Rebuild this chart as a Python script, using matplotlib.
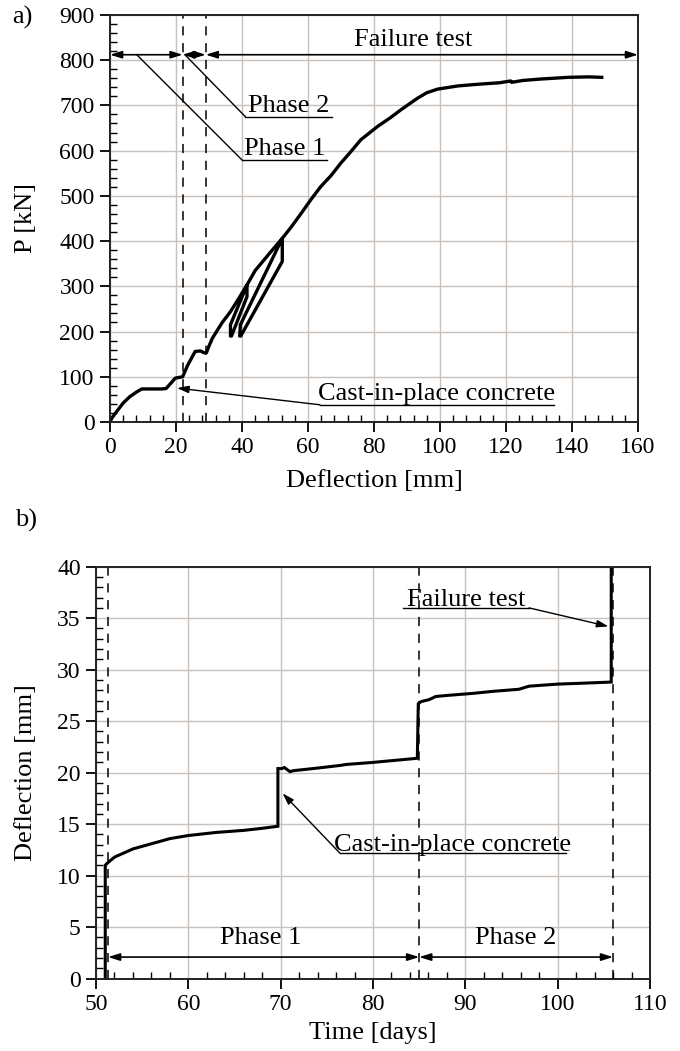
import matplotlib
matplotlib.use("Agg")
import matplotlib.pyplot as plt

plt.rcParams['font.family'] = ['Liberation Serif', 'DejaVu Serif']

# a) load vs. deflection
defl_a = [0, 0.5, 2, 4, 6, 8, 9.6, 12, 15.7, 17, 19.8, 21.3, 22, 23.5, 25.8, 27.4, 28.5, 29.2,
          30, 31, 34, 36.5, 39, 41.5,
          41.5, 36.8, 36.5, 36.5, 41.5,            # first unload/reload loop
          44, 48, 52.2,
          52.2, 39.6, 39.3, 39.5, 52.2,            # second unload/reload loop
          55, 58, 60.8, 63.8, 67, 69.9, 73, 76, 81, 85, 88.1, 93.2, 96, 99.3, 105.4,
          112, 118, 121.4, 121.7, 125, 130, 138.8, 145, 149]
load_a = [0, 8, 23, 42, 56, 66, 73, 73, 73, 74, 97, 99, 100, 125, 156, 157, 153, 153,
          168, 185, 220, 244, 273, 303,
          277, 190, 190, 215, 303,
          335, 370, 406,
          355, 190, 190, 215, 406,
          432, 462, 491, 520, 545, 572, 598, 624, 653, 673, 690, 716, 728, 736, 743,
          747, 750, 754, 751, 755, 758, 762, 763, 762]
phase_marks_a = [22, 29]
xticks_a = list(range(0, 161, 20))
yticks_a = list(range(0, 901, 100))

# b) deflection vs. time
time_b = [51, 51, 51.2, 52, 53, 54, 56, 58, 60, 63, 66, 68, 69.7, 69.7, 70.1, 70.4, 70.7, 71.0,
          71.4, 73.5, 76.4, 77.1, 80, 84.8, 84.9, 85.2, 86.1, 86.8, 88, 90.8, 93, 95.8,
          96.9, 100, 103, 105.8, 105.8]
defl_b = [0, 11.0, 11.2, 11.8, 12.2, 12.6, 13.1, 13.6, 13.9, 14.2, 14.4, 14.6, 14.8, 20.4,
          20.4, 20.5, 20.3, 20.1, 20.2, 20.4, 20.7, 20.8, 21.0, 21.4, 26.7, 26.9, 27.1,
          27.4, 27.5, 27.7, 27.9, 28.1, 28.4, 28.6, 28.7, 28.8, 41]
phase_marks_b = [51.3, 85, 106]
xticks_b = list(range(50, 111, 10))
yticks_b = list(range(0, 41, 5))

GRID = '#c9c1bc'
FS_TICK = 17
FS_TEXT = 19
arrow2 = dict(arrowstyle='<|-|>,head_length=0.7,head_width=0.22', color='black', lw=1.2,
              shrinkA=0, shrinkB=0)
arrow1 = dict(arrowstyle='-|>,head_length=0.7,head_width=0.22', color='black', lw=1.0,
              shrinkA=0, shrinkB=0)


def style_axes(ax, xminor, yminor):
    ax.grid(True, which='major', color=GRID, lw=1.0)
    ax.set_axisbelow(True)
    ax.set_xticks(xminor, minor=True)
    ax.set_yticks(yminor, minor=True)
    ax.tick_params(which='major', direction='out', length=7, width=1.3, labelsize=FS_TICK, pad=4)
    ax.tick_params(which='minor', direction='in', length=5, width=1.0)
    for s in ax.spines.values():
        s.set_linewidth(1.4)
        s.set_color('#222222')


def underline_label(ax, text, x0, x1, y, lead_to=None, arrow=False, dy=0):
    ax.plot([x0, x1], [y, y], color='black', lw=1.0, clip_on=False)
    ax.text((x0 + x1) / 2, y + dy, text, ha='center', va='bottom', fontsize=FS_TEXT)
    if lead_to is not None:
        if arrow:
            ax.annotate('', xy=lead_to[1], xytext=lead_to[0], arrowprops=arrow1)
        else:
            ax.plot([lead_to[0][0], lead_to[1][0]], [lead_to[0][1], lead_to[1][1]],
                    color='black', lw=1.0)


fig = plt.figure(figsize=(6.8, 10.51), dpi=100)

# ---- a) ----
ax1 = fig.add_axes([0.1618, 0.5985, 0.7765, 0.3873])
ax1.plot(defl_a, load_a, color='black', lw=2.4, solid_joinstyle='round')
for xm in phase_marks_a:
    ax1.axvline(xm, color='black', lw=1.1, ls=(0, (6, 5)))
ax1.set_xlim(0, 160)
ax1.set_ylim(0, 900)
ax1.set_xticks(xticks_a)
ax1.set_yticks(yticks_a)
style_axes(ax1, range(0, 161, 4), range(0, 901, 20))
ax1.set_xlabel('Deflection [mm]', fontsize=FS_TEXT)
ax1.set_ylabel('P [kN]', fontsize=FS_TEXT)
ax1.xaxis.set_label_coords(0.5, -0.118)
ax1.yaxis.set_label_coords(-0.138, 0.5)

y_arr = 812
ax1.annotate('', xy=(0, y_arr), xytext=(phase_marks_a[0], y_arr), arrowprops=arrow2)
ax1.annotate('', xy=(phase_marks_a[0], y_arr), xytext=(phase_marks_a[1], y_arr), arrowprops=arrow2)
ax1.annotate('', xy=(phase_marks_a[1], y_arr), xytext=(160, y_arr), arrowprops=arrow2)
ax1.text(92, y_arr + 8, 'Failure test', ha='center', va='bottom', fontsize=FS_TEXT)
underline_label(ax1, 'Phase 2', 41, 67.2, 675, lead_to=((41, 675), (22.7, y_arr)))
underline_label(ax1, 'Phase 1', 39.9, 65.7, 580, lead_to=((39.9, 580), (8.1, y_arr)))
underline_label(ax1, 'Cast-in-place concrete', 63.6, 134.5, 38,
                lead_to=((63.6, 38), (20.3, 75)), arrow=True)

fig.text(0.018, 0.983, 'a)', fontsize=FS_TEXT, va='center')

# ---- b) ----
ax2 = fig.add_axes([0.1412, 0.0688, 0.8147, 0.392])
ax2.plot(time_b, defl_b, color='black', lw=2.2, solid_joinstyle='miter')
for xm in phase_marks_b:
    ax2.axvline(xm, color='black', lw=1.1, ls=(0, (6, 5)))
ax2.set_xlim(50, 110)
ax2.set_ylim(0, 40)
ax2.set_xticks(xticks_b)
ax2.set_yticks(yticks_b)
style_axes(ax2, range(50, 111, 2), range(0, 41, 1))
ax2.set_xlabel('Time [days]', fontsize=FS_TEXT)
ax2.set_ylabel('Deflection [mm]', fontsize=FS_TEXT)
ax2.xaxis.set_label_coords(0.5, -0.105)
ax2.yaxis.set_label_coords(-0.106, 0.5)

y_arr_b = 2.1
ax2.annotate('', xy=(phase_marks_b[0], y_arr_b), xytext=(phase_marks_b[1], y_arr_b), arrowprops=arrow2)
ax2.annotate('', xy=(phase_marks_b[1], y_arr_b), xytext=(phase_marks_b[2], y_arr_b), arrowprops=arrow2)
ax2.text(67.8, y_arr_b + 0.8, 'Phase 1', ha='center', va='bottom', fontsize=FS_TEXT)
ax2.text(95.5, y_arr_b + 0.8, 'Phase 2', ha='center', va='bottom', fontsize=FS_TEXT)
underline_label(ax2, 'Failure test', 83.2, 96.9, 36.0,
                lead_to=((96.9, 36.0), (105.5, 34.2)), arrow=True, dy=-0.3)
underline_label(ax2, 'Cast-in-place concrete', 76.4, 100.9, 12.2,
                lead_to=((76.4, 12.2), (70.2, 18.0)), arrow=True, dy=-0.3)

fig.text(0.022, 0.505, 'b)', fontsize=FS_TEXT, va='center')

fig.savefig('out.png', dpi=100)
